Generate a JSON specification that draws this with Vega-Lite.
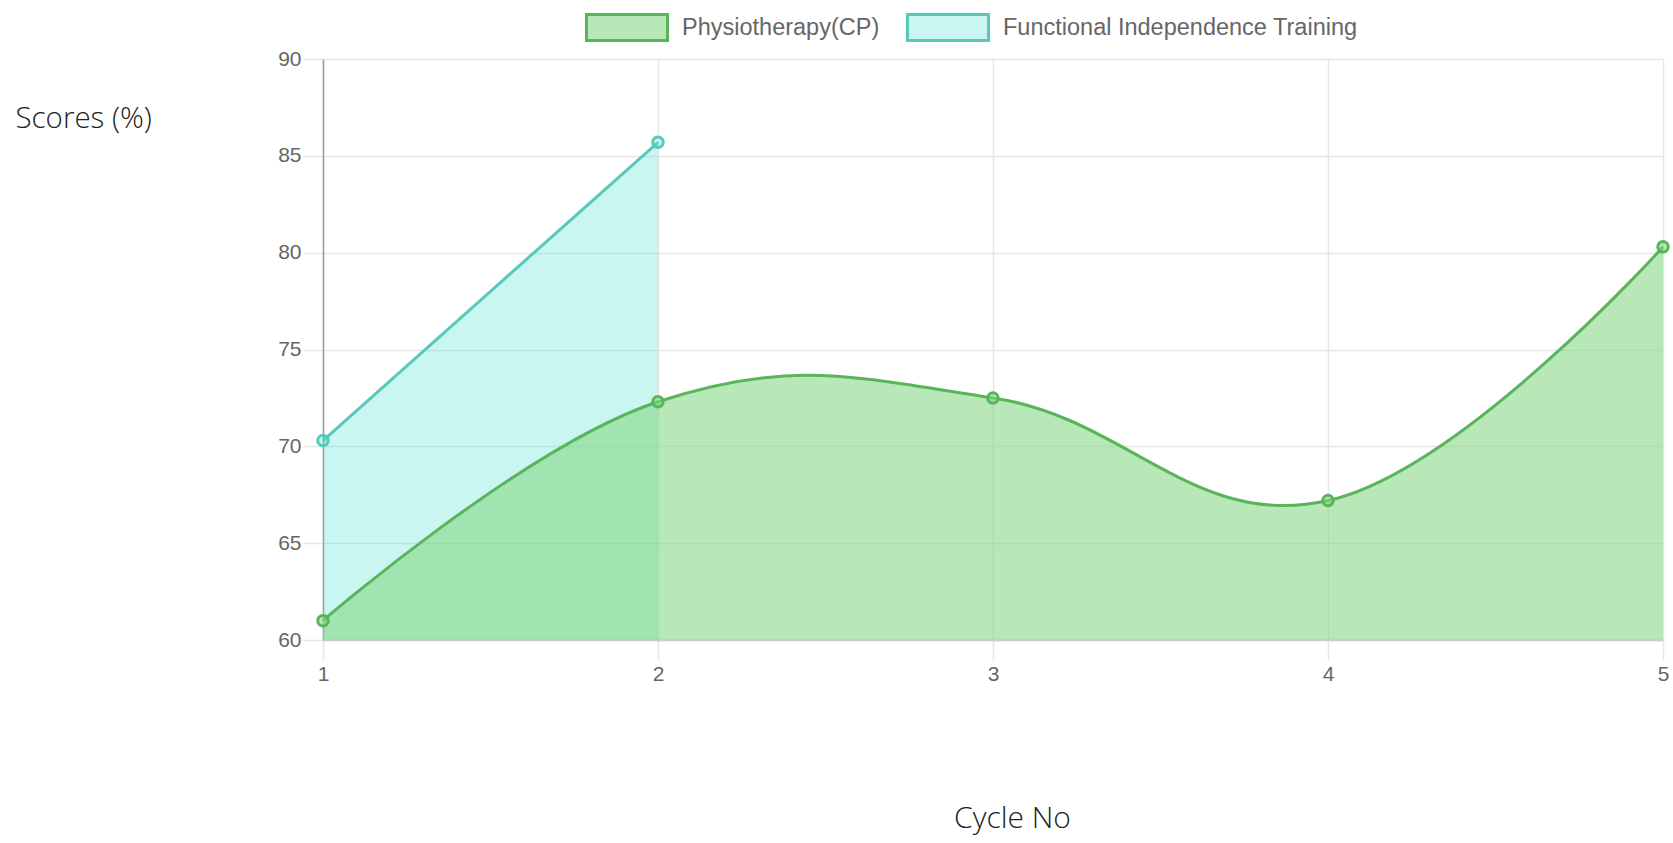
{
  "$schema": "https://vega.github.io/schema/vega-lite/v6.json",
  "width": 1340,
  "height": 581,
  "autosize": {"type": "none"},
  "padding": {"left": 323, "top": 59, "right": 10, "bottom": 203},
  "background": "white",
  "config": {
    "view": {"stroke": null},
    "axis": {
      "grid": true,
      "gridColor": "#e6e6e6",
      "gridWidth": 1.5,
      "tickColor": "#e6e6e6",
      "tickWidth": 1.5,
      "tickSize": 20,
      "labelColor": "#666666",
      "labelFont": "Liberation Sans",
      "labelFontSize": 21,
      "labelFlush": false,
      "labelOverlap": false,
      "titleFont": "Open Sans",
      "titleFontWeight": 300,
      "titleColor": "#222222"
    }
  },
  "data": {
    "values": [
      {"cycle": 1, "series": "Physiotherapy(CP)", "score": 61.0},
      {"cycle": 2, "series": "Physiotherapy(CP)", "score": 72.3},
      {"cycle": 3, "series": "Physiotherapy(CP)", "score": 72.5},
      {"cycle": 4, "series": "Physiotherapy(CP)", "score": 67.2},
      {"cycle": 5, "series": "Physiotherapy(CP)", "score": 80.3},
      {"cycle": 1, "series": "Functional Independence Training", "score": 70.3},
      {"cycle": 2, "series": "Functional Independence Training", "score": 85.7}
    ]
  },
  "encoding": {
    "x": {
      "field": "cycle",
      "type": "quantitative",
      "scale": {"domain": [1, 5], "nice": false, "zero": false},
      "axis": {
        "values": [1, 2, 3, 4, 5],
        "format": "d",
        "domainColor": "#cccccc",
        "domainWidth": 1.5,
        "labelPadding": 3,
        "title": "Cycle No",
        "titleFontSize": 30,
        "titleX": 689,
        "titleY": 178,
        "titleAlign": "center",
        "titleBaseline": "middle"
      }
    },
    "y": {
      "field": "score",
      "type": "quantitative",
      "stack": null,
      "scale": {"domain": [60, 90], "nice": false, "zero": false},
      "axis": {
        "values": [60, 65, 70, 75, 80, 85, 90],
        "domainColor": "#9a9a9a",
        "domainWidth": 1.5,
        "labelPadding": 2,
        "title": "Scores (%)",
        "titleFontSize": 29.5,
        "titleAngle": 0,
        "titleAlign": "left",
        "titleBaseline": "middle",
        "titleX": -308,
        "titleY": 59
      }
    }
  },
  "layer": [
    {
      "transform": [{"filter": "datum.series === 'Functional Independence Training'"}],
      "mark": {"type": "area", "interpolate": "linear"},
      "encoding": {
        "fill": {
          "field": "series",
          "type": "nominal",
          "scale": {
            "domain": ["Physiotherapy(CP)", "Functional Independence Training"],
            "range": ["rgba(127,214,127,0.556)", "rgba(75,225,205,0.3)"]
          },
          "legend": {
            "orient": "none",
            "direction": "horizontal",
            "legendX": 262,
            "legendY": -73.5,
            "padding": 0,
            "title": null,
            "symbolType": "M-1,-0.32H1V0.32H-1Z",
            "symbolSize": 6561,
            "symbolStrokeWidth": 3,
            "labelFont": "Liberation Sans",
            "labelFontSize": 23.5,
            "labelColor": "#666666",
            "labelOffset": 13,
            "columnPadding": 21,
            "labelLimit": 500,
            "encode": {
              "symbols": {
                "update": {
                  "fill": {"signal": "datum.value === 'Physiotherapy(CP)' ? 'rgb(184,231,182)' : 'rgb(201,246,240)'"},
                  "stroke": {"signal": "datum.value === 'Physiotherapy(CP)' ? '#5ab55a' : '#57c9b8'"},
                  "fillOpacity": {"value": 1},
                  "strokeWidth": {"value": 3}
                }
              }
            }
          }
        }
      }
    },
    {
      "transform": [{"filter": "datum.series === 'Functional Independence Training'"}],
      "mark": {"type": "line", "interpolate": "linear", "strokeWidth": 3},
      "encoding": {
        "stroke": {
          "field": "series",
          "type": "nominal",
          "scale": {
            "domain": ["Physiotherapy(CP)", "Functional Independence Training"],
            "range": ["#5ab55a", "#57c9b8"]
          },
          "legend": null
        }
      }
    },
    {
      "transform": [{"filter": "datum.series === 'Functional Independence Training'"}],
      "mark": {"type": "point", "filled": true, "size": 110, "strokeWidth": 3, "opacity": 1},
      "encoding": {
        "fill": {"field": "series", "type": "nominal", "legend": null},
        "stroke": {"field": "series", "type": "nominal", "legend": null}
      }
    },
    {
      "transform": [{"filter": "datum.series === 'Physiotherapy(CP)'"}],
      "mark": {"type": "area", "interpolate": "cardinal", "tension": -0.2},
      "encoding": {
        "fill": {"field": "series", "type": "nominal", "legend": null}
      }
    },
    {
      "transform": [{"filter": "datum.series === 'Physiotherapy(CP)'"}],
      "mark": {"type": "line", "interpolate": "cardinal", "tension": -0.2, "strokeWidth": 3},
      "encoding": {
        "stroke": {"field": "series", "type": "nominal", "legend": null}
      }
    },
    {
      "transform": [{"filter": "datum.series === 'Physiotherapy(CP)'"}],
      "mark": {"type": "point", "filled": true, "size": 110, "strokeWidth": 3, "opacity": 1},
      "encoding": {
        "fill": {"field": "series", "type": "nominal", "legend": null},
        "stroke": {"field": "series", "type": "nominal", "legend": null}
      }
    }
  ]
}
